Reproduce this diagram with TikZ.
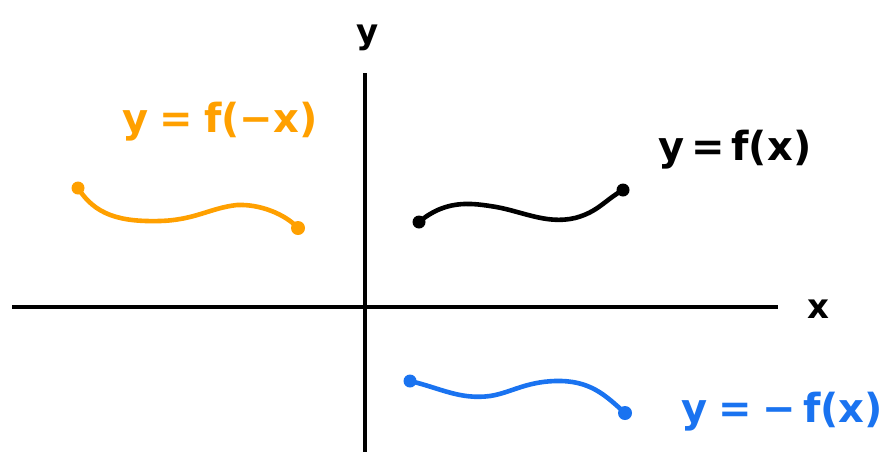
\documentclass[tikz,border=0pt]{standalone}
\usepackage{fontspec}
\setmainfont{DejaVu Sans}
\definecolor{orng}{HTML}{FFA000}
\definecolor{blu}{HTML}{1A73F0}
\begin{document}
\begin{tikzpicture}[x=1pt,y=-1pt,
  axis/.style={line width=3.8pt},
  curve/.style={line width=4.6pt,line cap=round,line join=round},
  lbl/.style={inner sep=0pt,font=\bfseries\fontsize{40}{40}\selectfont},
  axlbl/.style={inner sep=0pt,font=\bfseries\fontsize{34}{34}\selectfont}]
\useasboundingbox (0,0) rectangle (896,453);
% axes
\coordinate (xl) at (12,307);
\coordinate (xr) at (778,307);
\coordinate (yt) at (365,73);
\coordinate (yb) at (365,452);
\draw[axis] (xl) -- (xr);
\draw[axis] (yt) -- (yb);
\node[axlbl] (xlab) at (818,309) {x};
\node[axlbl] (ylab) at (368,38) {y};
% black curve f(x)
\coordinate (b1) at (419,222);
\coordinate (b2) at (623,190);
\draw[curve,black] (b1) .. controls (445,200) and (470,203) .. (490,206)
  .. controls (520,210) and (545,225) .. (575,218)
  .. controls (598,212) and (605,200) .. (b2);
\fill[black] (b1) circle (6.5);
\fill[black] (b2) circle (6.5);
\node[lbl,black] (lf) at (735,150) {y\,=\,f(x)};
% orange curve f(-x)
\coordinate (o1) at (78,188);
\coordinate (o2) at (298,228);
\draw[curve,orng] (o1) .. controls (95,215) and (120,222) .. (160,221)
  .. controls (195,220) and (210,208) .. (237,205)
  .. controls (260,204) and (285,214) .. (o2);
\fill[orng] (o1) circle (6.5);
\fill[orng] (o2) circle (7);
\node[lbl,orng] (lo) at (220,122) {y\;=\;f(−x)};
% blue curve -f(x)
\coordinate (c1) at (410,381);
\coordinate (c2) at (625,413);
\draw[curve,blu] (c1) .. controls (440,388) and (460,400) .. (490,396)
  .. controls (510,393) and (525,382) .. (555,381)
  .. controls (590,380) and (605,395) .. (c2);
\fill[blu] (c1) circle (6.5);
\fill[blu] (c2) circle (7);
\node[lbl,blu] (lb) at (782,412) {y\;=\;−\,f(x)};
\end{tikzpicture}
\end{document}
